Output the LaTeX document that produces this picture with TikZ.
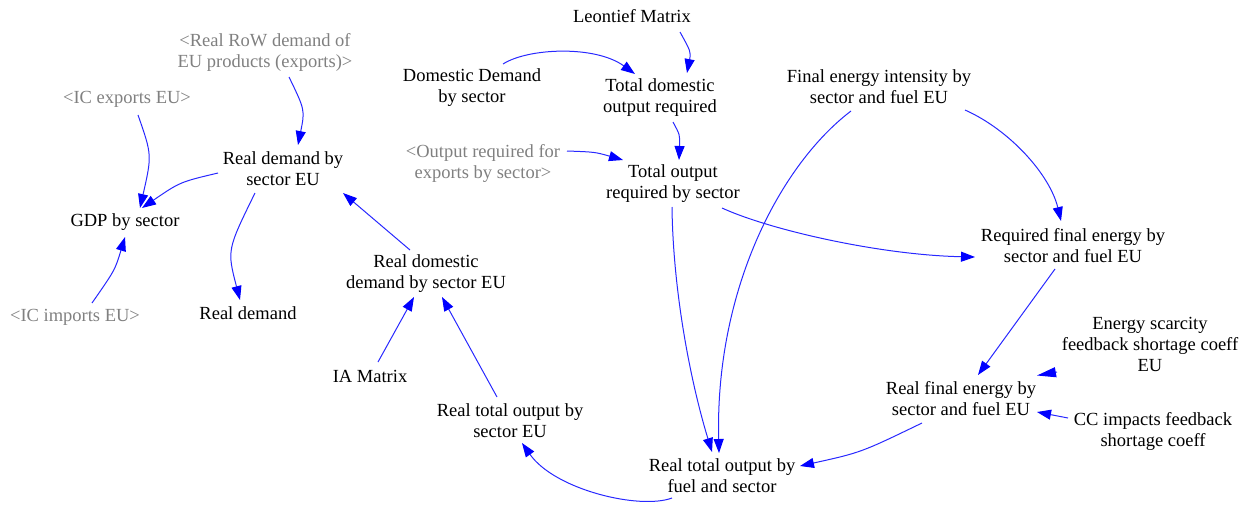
\documentclass[tikz,border=0pt]{standalone}
\usepackage{fontspec}
\setmainfont{Liberation Serif}
\usetikzlibrary{arrows.meta}
\definecolor{shadowgray}{RGB}{128,128,128}
\definecolor{linkblue}{RGB}{40,40,255}
\begin{document}
\begin{tikzpicture}[x=1pt,y=-1pt,
  var/.style={inner sep=0pt,align=center,font=\fontsize{18.5}{21}\selectfont,text=black},
  shadow/.style={var,text=shadowgray},
  link/.style={draw=linkblue,line width=1pt,-{Triangle[length=14pt,width=10pt,color=blue]}},
  shortlink/.style={draw=linkblue,line width=1pt,-{Triangle[length=19pt,width=10pt,color=blue]}}]
\useasboundingbox (0,0) rectangle (1252,504);
% nodes
\node[var] (leon) at (632,16) {Leontief Matrix};
\node[var] (dd) at (472,87.5) {Domestic Demand\\by sector};
\node[var] (tdo) at (660,97.5) {Total domestic\\output required};
\node[shadow] (row) at (265,52.5) {<Real RoW demand of\\EU products (exports)>};
\node[shadow] (icx) at (127,99) {<IC exports EU>};
\node[var] (rdse) at (283,168.5) {Real demand by\\sector EU};
\node[var] (gdp) at (125,222) {GDP by sector};
\node[shadow] (icm) at (75,317) {<IC imports EU>};
\node[var] (rd) at (248,313) {Real demand};
\node[shadow] (ore) at (483,163) {<Output required for\\exports by sector>};
\node[var] (tor) at (673,184) {Total output\\required by sector};
\node[var] (fei) at (879,86.5) {Final energy intensity by\\sector and fuel EU};
\node[var] (rfe) at (1073,245.5) {Required final energy by\\sector and fuel EU};
\node[var] (rdd) at (426,273.5) {Real domestic\\demand by sector EU};
\node[var] (ia) at (370,376) {IA Matrix};
\node[var] (rtos) at (510,420.5) {Real total output by\\sector EU};
\node[var] (esc) at (1150,344) {Energy scarcity\\feedback shortage coeff\\EU};
\node[var] (rfen) at (961,398.5) {Real final energy by\\sector and fuel EU};
\node[var] (cc) at (1153,431) {CC impacts feedback\\shortage coeff};
\node[var] (rtof) at (722,476) {Real total output by\\fuel and sector};
% connectors
\draw[link] ([shift={(48,16)}]leon.center) .. controls (691,52) .. ([shift={(27,-24.5)}]tdo.center);
\draw[link] ([shift={(31,-23.5)}]dd.center) .. controls (528,48) and (595,45) .. ([shift={(-25,-23.5)}]tdo.center);
\draw[link] ([shift={(13,24.5)}]tdo.center) .. controls (680,135) .. ([shift={(6,-24)}]tor.center);
\draw[link] ([shift={(84,-12)}]ore.center) .. controls (595,152) .. ([shift={(-50,-24)}]tor.center);
\draw[link] ([shift={(24,24.5)}]row.center) .. controls (305,110) .. ([shift={(15,-23.5)}]rdse.center);
\draw[link] ([shift={(11,16)}]icx.center) .. controls (152,155) .. ([shift={(15,-14)}]gdp.center);
\draw[link] ([shift={(-65,4.5)}]rdse.center) .. controls (180,182) .. ([shift={(17,-14)}]gdp.center);
\draw[link] ([shift={(17,-14)}]icm.center) .. controls (115,270) .. ([shift={(0,15)}]gdp.center);
\draw[link] ([shift={(-28,24.5)}]rdse.center) .. controls (227,250) .. ([shift={(-8,-13)}]rd.center);
\draw[link] ([shift={(-16,-23.5)}]rdd.center) -- ([shift={(60,24.5)}]rdse.center);
\draw[link] ([shift={(8,-14)}]ia.center) -- ([shift={(-12,23.5)}]rdd.center);
\draw[link] ([shift={(-13,-23.5)}]rtos.center) -- ([shift={(16,23.5)}]rdd.center);
\draw[link] ([shift={(-50,22)}]rtof.center) .. controls (640,510) and (555,490) .. ([shift={(12,22.5)}]rtos.center);
\draw[link] ([shift={(-1,23)}]tor.center) .. controls (673,290) and (690,380) .. ([shift={(-10,-24)}]rtof.center);
\draw[link] ([shift={(-28,24.5)}]fei.center) .. controls (780,165) and (715,290) .. ([shift={(-3,-23)}]rtof.center);
\draw[link] ([shift={(49,24)}]tor.center) .. controls (770,230) and (880,255) .. ([shift={(-98,11.5)}]rfe.center);
\draw[link] ([shift={(86,23.5)}]fei.center) .. controls (1010,130) and (1050,175) .. ([shift={(-12,-24.5)}]rfe.center);
\draw[link] ([shift={(-18,23.5)}]rfe.center) -- ([shift={(17,-23.5)}]rfen.center);
\draw[shortlink] ([shift={(-93,28)}]esc.center) -- ([shift={(76,-23)}]rfen.center);
\draw[link] ([shift={(-85,-13)}]cc.center) -- ([shift={(76,13.5)}]rfen.center);
\draw[link] ([shift={(-39,24.5)}]rfen.center) .. controls (861,452.5) .. ([shift={(78,-10)}]rtof.center);
\end{tikzpicture}
\end{document}
